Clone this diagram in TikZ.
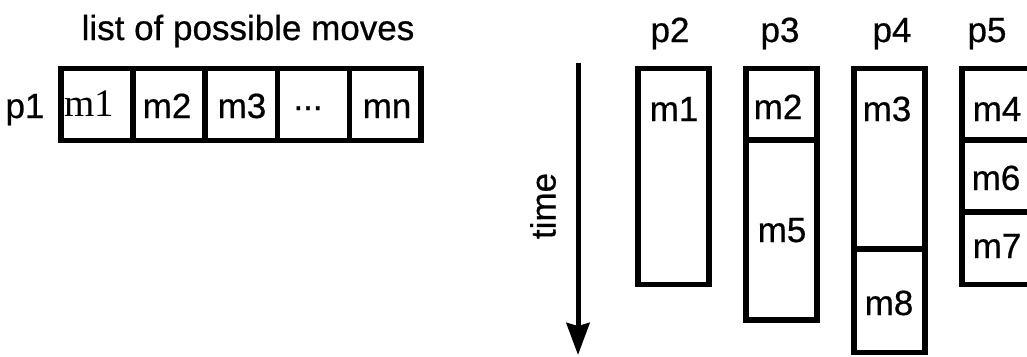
\documentclass[tikz,border=0pt]{standalone}
\usepackage{fontspec}
\setmainfont[FakeBold=0.6]{Liberation Sans}
\newfontfamily\romanm{Liberation Serif}
\usetikzlibrary{arrows.meta}

\begin{document}
\begin{tikzpicture}[
    x=1pt, y=-1pt,
    lbl/.style={anchor=base, inner sep=0pt, font=\fontsize{35}{40}\selectfont},
    frame/.style={line width=5.5pt},
    arr/.style={-{Stealth[length=32pt, width=23pt, inset=3pt]}, line width=5pt}
]
\useasboundingbox (0,0) rectangle (1027,356);

% p1 and its list of moves
\node[lbl] (title) at (248,40) {list of possible moves};
\node[lbl] (p1) at (25,118) {p1};
\draw[frame] (61,68.5) rectangle (421,140.5);
\draw[frame] (133,68.5) -- (133,140.5);
\draw[frame] (205,68.5) -- (205,140.5);
\draw[frame] (277.5,68.5) -- (277.5,140.5);
\draw[frame] (349.5,68.5) -- (349.5,140.5);
\node[lbl, font=\fontsize{39}{44}\romanm] (l1) at (89,116) {m1};
\node[lbl] (l2) at (167,118) {m2};
\node[lbl] (l3) at (242,118) {m3};
\node[lbl] (ldots) at (308,110) {...};
\node[lbl] (ln) at (387,118) {mn};

% time axis
\coordinate (t0) at (578,63);
\coordinate (t1) at (578,355);
\draw[arr] (t0) -- (t1);
\node[lbl, anchor=center, rotate=90] (time) at (543,206) {time};

% moves handed out to p2..p5
\node[lbl] (p2) at (670,42) {p2};
\node[lbl] (p3) at (780,42) {p3};
\node[lbl] (p4) at (892,42) {p4};
\node[lbl] (p5) at (987,42) {p5};

\draw[frame] (638,68.5) rectangle (709,284.5);
\draw[frame] (746,68.5) rectangle (817,320);
\draw[frame] (746,140) -- (817,140);
\draw[frame] (854,68.5) rectangle (925,352.5);
\draw[frame] (854,249) -- (925,249);
\draw[frame] (962,68.5) rectangle (1033,284.5);
\draw[frame] (962,140) -- (1033,140);
\draw[frame] (962,212) -- (1033,212);

\node[lbl] (m1) at (674,121) {m1};
\node[lbl] (m2) at (778,119) {m2};
\node[lbl] (m3) at (887,121) {m3};
\node[lbl] (m4) at (997,121) {m4};
\node[lbl] (m5) at (782,242) {m5};
\node[lbl] (m6) at (996,190) {m6};
\node[lbl] (m7) at (997,258) {m7};
\node[lbl] (m8) at (889,315) {m8};
\end{tikzpicture}
\end{document}
